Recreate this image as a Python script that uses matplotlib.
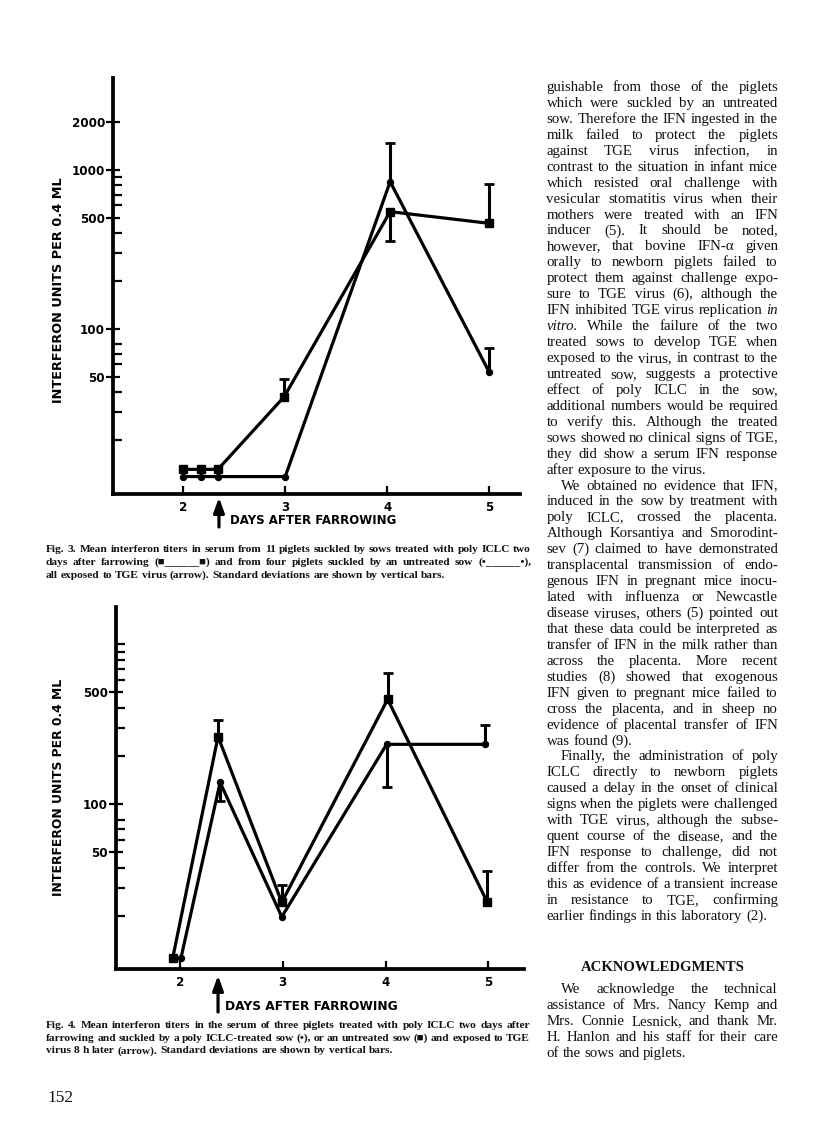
import matplotlib
matplotlib.use('Agg')
import matplotlib.pyplot as plt
import numpy as np
from matplotlib.font_manager import FontProperties
from matplotlib.ticker import NullFormatter, FixedLocator, FixedFormatter

W, H = 816, 1141
nan = np.nan

# ---------------- data ----------------
days_ticks = [2, 3, 4, 5]

fig3_yticks = [50, 100, 500, 1000, 2000]
fig3_yminor = [20, 30, 40, 60, 70, 80, 200, 300, 400, 600, 700, 800, 900]
fig3_sq_days = [2.0, 2.17, 2.34, 2.99, 4.03, 5.0]
fig3_sq_vals = [13.1, 13.1, 13.1, 37.5, 547, 462]
fig3_sq_err = [nan, nan, nan, 48.5, 358, 813]
fig3_ci_days = [2.0, 2.17, 2.34, 3.0, 4.03, 5.0]
fig3_ci_vals = [11.8, 11.8, 11.8, 11.8, 844, 53.9]
fig3_ci_err = [nan, nan, nan, nan, 1485, 75.6]
fig3_arrow_day = 2.35

fig4_yticks = [50, 100, 500]
fig4_yminor = [20, 30, 40, 60, 70, 80, 200, 300, 400, 600, 700, 800, 900, 1000]
fig4_sq_days = [1.93, 2.37, 2.99, 4.02, 4.99]
fig4_sq_vals = [11.0, 265, 24.4, 453, 24.4]
fig4_sq_err = [nan, 336, 31.3, 659, 38.3]
fig4_ci_days = [2.01, 2.39, 2.99, 4.01, 4.97]
fig4_ci_vals = [11.0, 137, 19.8, 237, 237]
fig4_ci_err = [nan, 105, nan, 129, 313]
fig4_arrow_day = 2.37

ylabel_text = "INTERFERON UNITS PER 0.4 ML"
xlabel_text = "DAYS AFTER FARROWING"

cap3 = [
    "Fig. 3.  Mean interferon titers in serum from 11 piglets suckled by sows treated with poly ICLC two",
    "days after farrowing (\u25a0______\u25a0) and from four piglets suckled by an untreated sow (\u2022______\u2022),",
    "all exposed to TGE virus (arrow). Standard deviations are shown by vertical bars.",
]
cap4 = [
    "Fig. 4.  Mean interferon titers in the serum of three piglets treated with poly ICLC two days after",
    "farrowing and suckled by a poly ICLC-treated sow (\u2022), or an untreated sow (\u25a0) and exposed to TGE",
    "virus 8 h later (arrow). Standard deviations are shown by vertical bars.",
]

body = [
    # (text, indent, justify)
    ("guishable from those of the piglets", 0, True),
    ("which were suckled by an untreated", 0, True),
    ("sow. Therefore the IFN ingested in the", 0, True),
    ("milk failed to protect the piglets", 0, True),
    ("against TGE virus infection, in", 0, True),
    ("contrast to the situation in infant mice", 0, True),
    ("which resisted oral challenge with", 0, True),
    ("vesicular stomatitis virus when their", 0, True),
    ("mothers were treated with an IFN", 0, True),
    ("inducer (5). It should be noted,", 0, True),
    ("however, that bovine IFN-\u03b1 given", 0, True),
    ("orally to newborn piglets failed to", 0, True),
    ("protect them against challenge expo-", 0, True),
    ("sure to TGE virus (6), although the", 0, True),
    ("IFN inhibited TGE virus replication _in", 0, True),
    ("_vitro. While the failure of the two", 0, True),
    ("treated sows to develop TGE when", 0, True),
    ("exposed to the virus, in contrast to the", 0, True),
    ("untreated sow, suggests a protective", 0, True),
    ("effect of poly ICLC in the sow,", 0, True),
    ("additional numbers would be required", 0, True),
    ("to verify this. Although the treated", 0, True),
    ("sows showed no clinical signs of TGE,", 0, True),
    ("they did show a serum IFN response", 0, True),
    ("after exposure to the virus.", 0, False),
    ("We obtained no evidence that IFN,", 1, True),
    ("induced in the sow by treatment with", 0, True),
    ("poly ICLC, crossed the placenta.", 0, True),
    ("Although Korsantiya and Smorodint-", 0, True),
    ("sev (7) claimed to have demonstrated", 0, True),
    ("transplacental transmission of endo-", 0, True),
    ("genous IFN in pregnant mice inocu-", 0, True),
    ("lated with influenza or Newcastle", 0, True),
    ("disease viruses, others (5) pointed out", 0, True),
    ("that these data could be interpreted as", 0, True),
    ("transfer of IFN in the milk rather than", 0, True),
    ("across the placenta. More recent", 0, True),
    ("studies (8) showed that exogenous", 0, True),
    ("IFN given to pregnant mice failed to", 0, True),
    ("cross the placenta, and in sheep no", 0, True),
    ("evidence of placental transfer of IFN", 0, True),
    ("was found (9).", 0, False),
    ("Finally, the administration of poly", 1, True),
    ("ICLC directly to newborn piglets", 0, True),
    ("caused a delay in the onset of clinical", 0, True),
    ("signs when the piglets were challenged", 0, True),
    ("with TGE virus, although the subse-", 0, True),
    ("quent course of the disease, and the", 0, True),
    ("IFN response to challenge, did not", 0, True),
    ("differ from the controls. We interpret", 0, True),
    ("this as evidence of a transient increase", 0, True),
    ("in resistance to TGE, confirming", 0, True),
    ("earlier findings in this laboratory (2).", 0, False),
]
ack_title = "ACKNOWLEDGMENTS"
ack = [
    ("We acknowledge the technical", 1, True),
    ("assistance of Mrs. Nancy Kemp and", 0, True),
    ("Mrs. Connie Lesnick, and thank Mr.", 0, True),
    ("H. Hanlon and his staff for their care", 0, True),
    ("of the sows and piglets.", 0, False),
]
page_number = "152"

# ---------------- figure ----------------
fig = plt.figure(figsize=(W / 100, H / 100), dpi=100)
fig.patch.set_facecolor('white')
renderer = fig.canvas.get_renderer()

def fx(px):
    return px / W

def fy(py):
    return 1 - py / H

SANS = 'DejaVu Sans'

def make_panel(l, t, r, b, xlim, ylim, yticks, yminor, sq, ci, arrow_day,
               arrow_top, arrow_bot, tick_fs):
    ax = fig.add_axes([fx(l), fy(b), (r - l) / W, (b - t) / H])
    ax.set_facecolor('none')
    ax.set_yscale('log')
    ax.set_xlim(*xlim)
    ax.set_ylim(*ylim)
    for s in ['top', 'right']:
        ax.spines[s].set_visible(False)
    for s in ['left', 'bottom']:
        ax.spines[s].set_linewidth(2.7)
        ax.spines[s].set_capstyle('projecting')
    ax.yaxis.set_major_locator(FixedLocator(yticks))
    ax.yaxis.set_major_formatter(FixedFormatter([str(v) for v in yticks]))
    ax.yaxis.set_minor_locator(FixedLocator(yminor))
    ax.yaxis.set_minor_formatter(NullFormatter())
    ax.tick_params(axis='y', which='major', direction='inout', length=9.5,
                   width=1.6, pad=1.0, labelsize=tick_fs)
    ax.tick_params(axis='y', which='minor', direction='in', length=6.5,
                   width=1.6)
    ax.set_xticks(days_ticks)
    ax.set_xticklabels([str(d) for d in days_ticks])
    ax.tick_params(axis='x', which='major', direction='in', length=5.5,
                   width=1.6, pad=4.8, labelsize=tick_fs)
    for lab in ax.get_xticklabels() + ax.get_yticklabels():
        lab.set_fontweight('bold')
        lab.set_family(SANS)
    for (days, vals, errs), mk, ms in [(sq, 's', 5.2), (ci, 'o', 4.3)]:
        ax.plot(days, vals, color='k', lw=2.3, marker=mk, ms=ms,
                clip_on=False, zorder=3)
        for d, v, e in zip(days, vals, errs):
            if np.isfinite(e):
                ax.plot([d, d], [v, e], color='k', lw=2.2,
                        solid_capstyle='butt', clip_on=False, zorder=3)
                ax.plot([d], [e], marker='_', ms=6.5, mew=2.0, color='k',
                        clip_on=False, zorder=3)
    tr = ax.get_xaxis_transform()
    ya = (b - arrow_top) / (b - t)   # negative: below the axis
    yb = (b - arrow_bot) / (b - t)
    ax.annotate('', xy=(arrow_day, ya), xytext=(arrow_day, yb),
                xycoords=tr, textcoords=tr, annotation_clip=False,
                arrowprops=dict(arrowstyle='-|>,head_length=0.55,head_width=0.2',
                                lw=2.3, color='k', mutation_scale=16,
                                shrinkA=0, shrinkB=0))
    return ax

# Fig. 3
l3, t3, r3, b3 = 113, 78, 520, 494
x3 = (2 + (l3 - 183.3) / 101.9, 2 + (r3 - 183.3) / 101.9)
y3 = (100 * 10 ** (-(b3 - 329) / 159), 100 * 10 ** ((329 - t3) / 159))
make_panel(l3, t3, r3, b3, x3, y3, fig3_yticks, fig3_yminor,
           (fig3_sq_days, fig3_sq_vals, fig3_sq_err),
           (fig3_ci_days, fig3_ci_vals, fig3_ci_err),
           fig3_arrow_day, 497.5, 527, 8.6)

# Fig. 4
l4, t4, r4, b4 = 116, 606.7, 524, 969
x4 = (2 + (l4 - 180) / 102.8, 2 + (r4 - 180) / 102.8)
y4 = (100 * 10 ** (-(b4 - 804.3) / 160), 100 * 10 ** ((804.3 - t4) / 160))
make_panel(l4, t4, r4, b4, x4, y4, fig4_yticks, fig4_yminor,
           (fig4_sq_days, fig4_sq_vals, fig4_sq_err),
           (fig4_ci_days, fig4_ci_vals, fig4_ci_err),
           fig4_arrow_day, 975.5, 1012, 8.6)

# axis titles
fig.text(fx(58.5), fy(290), ylabel_text, rotation=90, ha='center', va='center',
         family=SANS, fontweight='bold', fontsize=9.3)
fig.text(fx(58.5), fy(787.5), ylabel_text, rotation=90, ha='center', va='center',
         family=SANS, fontweight='bold', fontsize=8.9)
fig.text(fx(230), fy(523.5), xlabel_text, ha='left', va='baseline',
         family=SANS, fontweight='bold', fontsize=8.5)
fig.text(fx(225), fy(1009.5), xlabel_text, ha='left', va='baseline',
         family=SANS, fontweight='bold', fontsize=8.8)

# ---------------- justified text helpers ----------------
SERIF = ['Liberation Serif', 'DejaVu Serif', 'DejaVu Sans']

def props(size, weight='normal', style='normal'):
    return FontProperties(family=SERIF, size=size, weight=weight, style=style)

def text_w(s, fp):
    return renderer.get_text_width_height_descent(s, fp, ismath=False)[0]

def draw_line(line, x0, x1, y, size, weight='normal', justify=True):
    words = line.split()
    items = []
    for w in words:
        if w.startswith('_'):
            items.append((w[1:], props(size, weight, 'italic')))
        else:
            items.append((w, props(size, weight)))
    widths = [text_w(w, p) for w, p in items]
    space = text_w('a b', props(size, weight)) - text_w('ab', props(size, weight))
    if justify and len(items) > 1:
        gap = (x1 - x0 - sum(widths)) / (len(items) - 1)
    else:
        gap = space
    x = x0
    for (w, p), wd in zip(items, widths):
        fig.text(fx(x), fy(y), w, fontproperties=p, ha='left', va='baseline',
                 color='#111111')
        x += wd + gap

# captions
CAP_FS = 8.2
for i, line in enumerate(cap3):
    draw_line(line, 46, 531, 552.5 + i * 12.5, CAP_FS, 'bold', justify=(i < 2))
for i, line in enumerate(cap4):
    draw_line(line, 46, 530, 1028.3 + i * 12.5, CAP_FS, 'bold', justify=(i < 2))

# body column
col_l, col_r = 546.5, 778
indent = 14.5
BODY_FS = 10.7
for i, (line, ind, just) in enumerate(body):
    draw_line(line, col_l + ind * indent, col_r, 91 + i * 15.94, BODY_FS,
              justify=just)

fig.text(fx(663), fy(970.7), ack_title, ha='center', va='baseline',
         fontproperties=props(10.6, 'bold'), color='#111111')
for i, (line, ind, just) in enumerate(ack):
    draw_line(line, col_l + ind * indent, col_r, 993.3 + i * 16.0, BODY_FS,
              justify=just)

fig.text(fx(47), fy(1102), page_number, ha='left', va='baseline',
         fontproperties=props(12.5), color='#111111')

fig.savefig('out.png', dpi=100, facecolor='white')
